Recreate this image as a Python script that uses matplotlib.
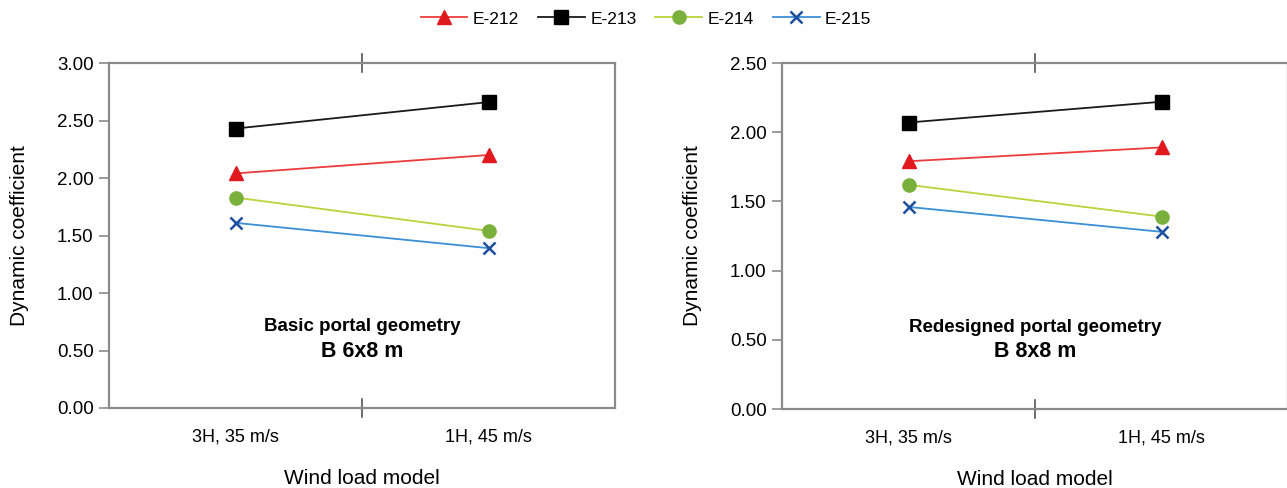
import matplotlib.pyplot as plt

plt.rcParams['font.family'] = ['Liberation Sans', 'DejaVu Sans']

# data
categories = ['3H, 35 m/s', '1H, 45 m/s']
series = ['E-212', 'E-213', 'E-214', 'E-215']
basic = {
    'E-212': [2.04, 2.20],
    'E-213': [2.43, 2.66],
    'E-214': [1.83, 1.54],
    'E-215': [1.61, 1.39],
}
redesigned = {
    'E-212': [1.79, 1.89],
    'E-213': [2.07, 2.22],
    'E-214': [1.62, 1.39],
    'E-215': [1.46, 1.28],
}
basic_ticks = [0.0, 0.5, 1.0, 1.5, 2.0, 2.5, 3.0]
redesigned_ticks = [0.0, 0.5, 1.0, 1.5, 2.0, 2.5]

styles = {
    'E-212': dict(color='#ee3b3b', marker='^', mfc='#e0191f', mec='#e0191f', ms=10),
    'E-213': dict(color='#1a1a1a', marker='s', mfc='#000000', mec='#000000', ms=10),
    'E-214': dict(color='#b8d43a', marker='o', mfc='#7ab03c', mec='#7ab03c', ms=9.5),
    'E-215': dict(color='#3a8fd6', marker='x', mfc='#1d4f9e', mec='#1d4f9e', ms=8, mew=1.8),
}
spine_col = '#8a8a8a'

fig = plt.figure(figsize=(12.87, 4.88), dpi=100)
ax1 = fig.add_axes([109 / 1287, 1 - 408 / 488, 506 / 1287, 345 / 488])
ax2 = fig.add_axes([782 / 1287, 1 - 409 / 488, 506 / 1287, 346 / 488])


def draw(ax, data, ticks, title1, title2):
    x = list(range(len(categories)))
    for s in series:
        ax.plot(x, data[s], lw=1.3, label=s, **styles[s])
    ax.set_xlim(-0.5, len(categories) - 0.5)
    ax.set_ylim(ticks[0], ticks[-1])
    ax.set_yticks(ticks)
    ax.set_yticklabels([f'{t:.2f}' for t in ticks])
    ax.set_xticks(x)
    ax.set_xticklabels(categories)
    ax.tick_params(axis='x', length=0, pad=15, labelsize=13)
    ax.tick_params(axis='y', length=7, width=1.2, color=spine_col, labelsize=13.5, pad=4)
    # divider tick between categories, crossing top and bottom spines
    for yy in (0, 1):
        ax.plot([0.5, 0.5], [yy - 0.025, yy + 0.025], color='#555555', lw=1.2,
                transform=ax.get_xaxis_transform(), clip_on=False)
    for sp in ax.spines.values():
        sp.set_color(spine_col)
        sp.set_linewidth(1.6)
    ax.set_xlabel('Wind load model', fontsize=15, labelpad=17)
    ax.set_ylabel('Dynamic coefficient', fontsize=15, labelpad=20)
    ax.text(0.5, 0.235, title1, transform=ax.transAxes, ha='center', va='center',
            fontsize=13.5, fontweight='bold')
    ax.text(0.5, 0.165, title2, transform=ax.transAxes, ha='center', va='center',
            fontsize=15.5, fontweight='bold')


draw(ax1, basic, basic_ticks, 'Basic portal geometry', 'B 6x8 m')
draw(ax2, redesigned, redesigned_ticks, 'Redesigned portal geometry', 'B 8x8 m')

handles, labels = ax1.get_legend_handles_labels()
fig.legend(handles, labels, loc='center', bbox_to_anchor=(646 / 1287, 1 - 19 / 488),
           ncol=4, frameon=False, fontsize=12.5, handlelength=2.7, columnspacing=1.1,
           handletextpad=0.3)

fig.savefig('out.png', dpi=100)
